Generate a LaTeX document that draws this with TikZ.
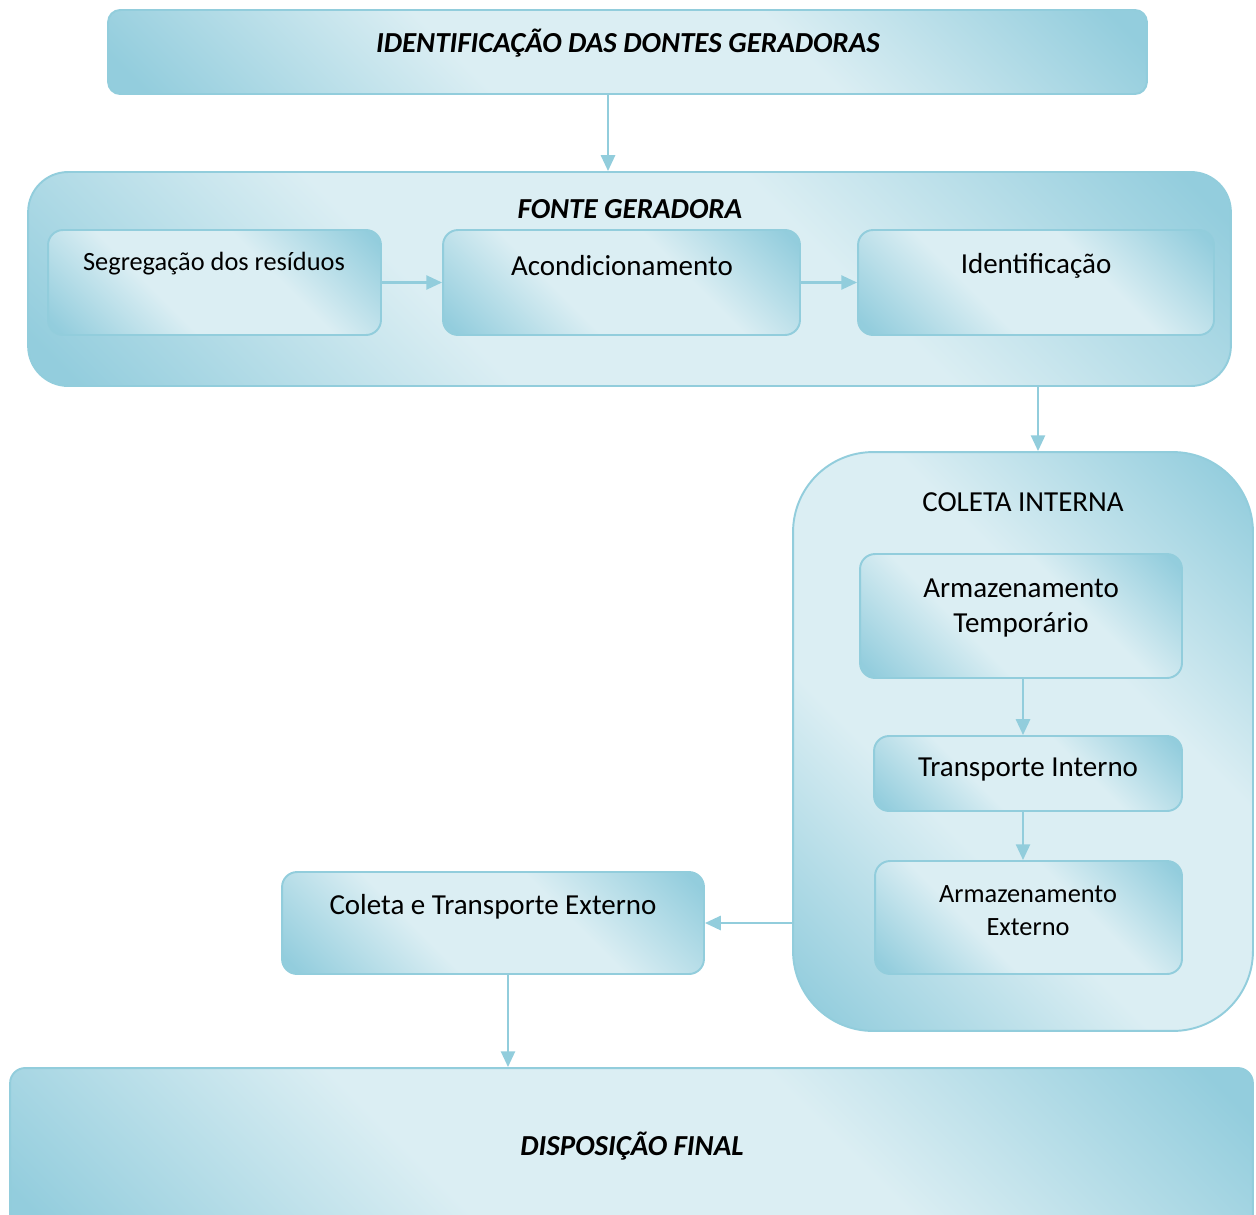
\documentclass[tikz,border=0pt]{standalone}
\usepackage{fontspec}
\setmainfont{Carlito}
\usepackage{xcolor}
\usetikzlibrary{arrows.meta}

\definecolor{aquaescuro}{RGB}{147,205,221}
\definecolor{aquaclaro}{RGB}{219,238,243}
\definecolor{aquaborda}{RGB}{146,205,220}

\pgfdeclareverticalshading{aquafaixa}{100bp}{color(0bp)=(aquaescuro); color(17bp)=(aquaescuro); color(39bp)=(aquaclaro); color(61bp)=(aquaclaro); color(83bp)=(aquaescuro); color(100bp)=(aquaescuro)}

\tikzset{
  caixa/.style={draw=aquaborda, line width=1.1pt, shade, shading=aquafaixa, shading angle=-45, rounded corners=0.3cm},
  bloco/.style={caixa, rounded corners=0.8cm},
  seta/.style={draw=aquaborda, line width=1.4pt, -{Triangle[length=9pt,width=8pt]}},
  titulo/.style={font=\fontsize{16.5}{20}\selectfont\bfseries\itshape, inner sep=0pt},
  texto/.style={font=\fontsize{16.5}{20.4}\selectfont, align=center, inner sep=0pt},
  textop/.style={font=\fontsize{15}{18.7}\selectfont, align=center, inner sep=0pt}
}

\begin{document}
\begin{tikzpicture}[x=0.02cm,y=-0.02cm]
        \useasboundingbox (0,0) rectangle (1256,1214);

            % caixas
            \node (topo) at (627.5,52) [caixa,minimum width=20.78cm,minimum height=1.68cm,rounded corners=0.24cm] {};
            \node (fonte) at (629.5,279) [bloco,minimum width=24.06cm,minimum height=4.28cm] {};
            \node (segreg) at (214.5,282.5) [caixa,minimum width=6.66cm,minimum height=2.1cm] {};
            \node (acond) at (621.5,282.5) [caixa,minimum width=7.14cm,minimum height=2.1cm] {};
            \node (ident) at (1036,282.5) [caixa,minimum width=7.12cm,minimum height=2.1cm] {};
            \node (coleta) at (1023,741.5) [bloco,minimum width=9.2cm,minimum height=11.58cm,rounded corners=1.6cm] {};
            \node (armtemp) at (1021,616) [caixa,minimum width=6.44cm,minimum height=2.48cm] {};
            \node (transp) at (1028,773.5) [caixa,minimum width=6.16cm,minimum height=1.5cm] {};
            \node (armext) at (1028.5,917.5) [caixa,minimum width=6.14cm,minimum height=2.26cm] {};
            \node (colext) at (493,923) [caixa,minimum width=8.44cm,minimum height=2.04cm] {};
            \node (dispos) at (631.5,1154) [caixa,minimum width=24.86cm,minimum height=3.44cm] {};

            % textos
            \node (topo-t) at (628,43) [titulo] {IDENTIFICAÇÃO DAS DONTES GERADORAS};
            \node (fonte-t) at (630,209) [titulo] {FONTE GERADORA};
            \node (segreg-t) at (214,264) [textop] {Segregação dos resíduos};
            \node (acond-t) at (622,266) [texto] {Acondicionamento};
            \node (ident-t) at (1036,266) [texto] {Identificação};
            \node (coleta-t) at (1023,502) [texto] {COLETA INTERNA};
            \node (armtemp-t) at (1021,608) [texto] {Armazenamento\\Temporário};
            \node (transp-t) at (1028,770) [texto] {Transporte Interno};
            \node (armext-t) at (1028,911) [textop] {Armazenamento\\Externo};
            \node (colext-t) at (493,907) [texto] {Coleta e Transporte Externo};
            \node (dispos-t) at (632,1146) [titulo] {DISPOSIÇÃO FINAL};

            % setas
            \draw[seta] (topo.south -| 608,0) -- (fonte.north -| 608,0);
            \draw[seta] (segreg.east) -- (acond.west);
            \draw[seta] (acond.east) -- (ident.west);
            \draw[seta] (fonte.south -| 1038,0) -- (coleta.north -| 1038,0);
            \draw[seta] (armtemp.south -| 1023,0) -- (transp.north -| 1023,0);
            \draw[seta] (transp.south -| 1023,0) -- (armext.north -| 1023,0);
            \draw[seta] (coleta.west |- colext.east) -- (colext.east);
            \draw[seta] (colext.south -| 508,0) -- (dispos.north -| 508,0);

        \end{tikzpicture}
\end{document}
